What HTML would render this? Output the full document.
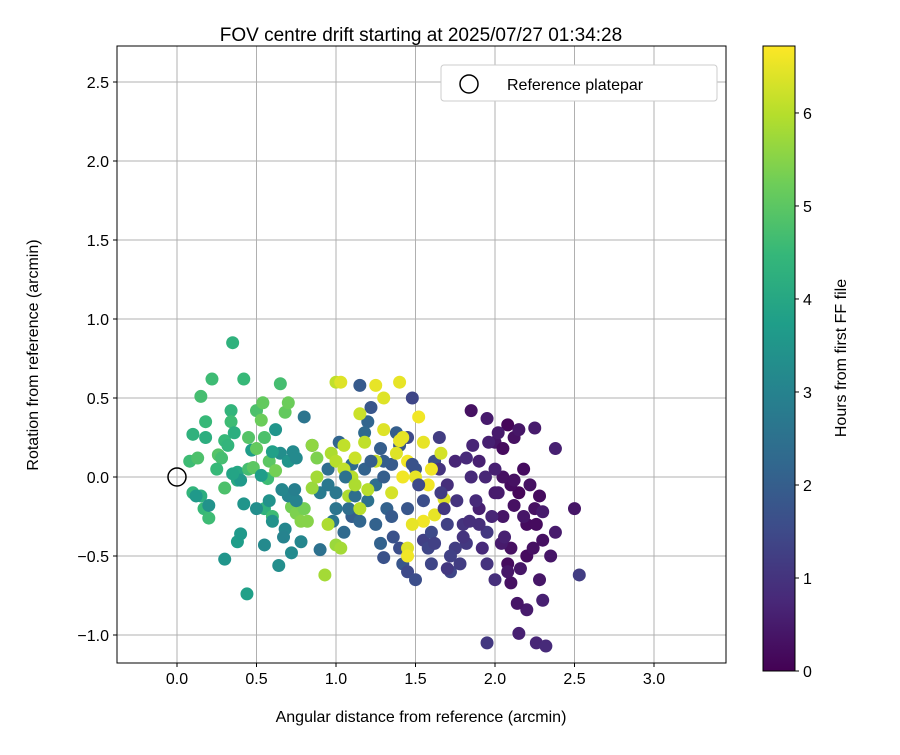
<!DOCTYPE html>
<html><head><meta charset="utf-8"><style>
body{margin:0;background:#fff;font-family:"Liberation Sans",sans-serif}
svg text{font-family:"Liberation Sans",sans-serif;fill:#000}
</style></head><body>
<svg id="c" width="900" height="750" xmlns="http://www.w3.org/2000/svg"></svg>
<script>
const xs=[0.08,0.1,0.13,0.15,0.18,0.18,0.22,0.26,0.28,0.3,0.34,0.35,0.34,0.36,0.38,0.42,0.45,0.48,0.5,0.53,0.54,0.55,0.57,0.58,0.62,0.65,0.68,0.7,0.72,0.75,0.78,0.8,0.82,0.1,0.15,0.17,0.2,0.3,0.38,0.55,0.6,
0.12,0.2,0.3,0.38,0.4,0.44,0.42,0.5,0.55,0.6,0.64,0.68,0.7,0.72,0.75,0.78,0.65,0.7,0.73,0.47,0.4,0.6,0.35,0.53,0.67,
0.8,0.85,0.9,0.95,1.0,1.02,1.05,1.1,1.15,1.18,1.2,1.22,1.25,1.28,1.3,1.32,1.35,1.38,1.4,1.42,1.45,1.48,1.5,1.1,1.2,1.15,1.3,1.4,1.25,1.36,0.98,0.9,1.08,1.45,1.5,1.55,1.6,1.62,1.65,1.7,1.72,
0.93,0.95,1.0,1.03,0.97,1.0,1.05,1.08,1.1,1.12,1.05,1.15,1.2,1.25,1.0,0.85,0.88,0.85,1.15,
1.03,1.25,1.3,1.4,1.52,1.4,1.38,1.45,1.55,1.58,1.55,1.48,1.45,1.45,1.62,1.68,1.5,1.42,1.35,
1.85,1.95,2.0,2.05,2.08,2.12,2.15,2.25,2.38,2.5,2.53,2.38,2.3,2.28,2.3,2.26,2.32,2.15,2.2,2.14,2.1,2.08,2.1,2.0,1.95,1.95,2.2,2.25,2.15,2.1,2.05,2.0,1.9,1.85,1.8,1.75,1.7,1.65,1.9,1.95,2.05,2.12,2.2,2.3,2.35,2.0,1.78,1.82,1.88,2.18,2.22,1.98,2.04,
1.75,1.8,1.72,1.68,1.6,1.58,1.55,1.52,1.48,1.45,1.35,1.3,1.28,1.22,1.18,1.12,1.06,1.0,0.95,1.9,1.92,2.02,2.06,2.16,2.24,2.28,1.86,1.82,1.76,1.66,1.62,1.7,1.84,1.96,2.02,2.12,2.18,2.26,2.08,1.94,
0.25,0.32,0.45,0.5,0.62,0.75,0.88,0.58,0.66,0.74,1.12,1.18,1.3,1.42,1.6,1.66];
const ys=[0.1,0.27,0.12,0.51,0.35,0.25,0.62,0.14,0.12,0.23,0.42,0.85,0.35,0.28,0.03,0.62,0.05,0.06,0.42,0.36,0.47,0.25,-0.01,0.1,0.04,0.59,0.41,0.47,-0.19,-0.23,-0.28,-0.2,-0.28,-0.1,-0.12,-0.2,-0.26,-0.07,-0.02,-0.2,-0.25,
-0.12,-0.18,-0.52,-0.41,-0.36,-0.74,-0.17,-0.2,-0.43,-0.28,-0.56,-0.33,-0.12,-0.48,-0.15,-0.41,0.15,0.1,0.16,0.17,-0.02,0.16,0.02,0.01,-0.38,
0.38,0.2,-0.46,0.05,-0.1,0.22,-0.35,-0.25,0.58,0.05,0.35,0.44,-0.05,0.18,-0.51,-0.2,0.08,0.28,-0.45,-0.55,-0.6,0.5,-0.65,0.08,-0.15,-0.28,0.1,0.2,-0.3,-0.38,-0.28,-0.1,-0.2,0.25,0.05,-0.4,-0.55,0.1,0.25,-0.3,-0.6,
-0.62,-0.3,-0.43,-0.45,0.15,0.1,0.05,-0.12,0.0,0.12,0.2,0.4,-0.08,0.1,0.6,-0.07,0.0,0.2,-0.2,
0.6,0.58,0.5,0.6,0.38,0.23,0.15,0.1,0.22,-0.05,-0.28,-0.3,-0.45,-0.5,-0.24,-0.14,0.0,0.0,-0.1,
0.42,0.37,0.22,0.18,0.33,0.25,0.3,0.31,0.18,-0.2,-0.62,-0.35,-0.4,-0.65,-0.78,-1.05,-1.07,-0.99,-0.84,-0.8,-0.67,-0.55,-0.45,-0.65,-0.55,-1.05,-0.3,-0.2,-0.1,-0.05,0.0,-0.1,-0.2,0.0,-0.3,0.1,-0.05,0.05,0.1,-0.35,-0.25,-0.18,-0.5,-0.22,-0.5,0.05,-0.55,-0.42,-0.15,0.05,-0.05,-0.25,-0.42,
-0.45,-0.38,-0.5,-0.2,-0.35,-0.45,-0.15,-0.05,0.08,-0.2,-0.25,0.0,-0.42,0.1,0.28,-0.12,0.0,-0.2,-0.05,-0.3,-0.45,-0.1,-0.38,-0.58,-0.45,-0.12,0.2,0.12,-0.15,-0.1,-0.42,-0.58,-0.28,0.22,0.28,-0.02,-0.25,-0.3,-0.6,0.0,
0.05,0.2,0.25,0.18,0.3,0.12,0.12,-0.15,-0.08,-0.08,-0.05,0.22,0.3,0.25,0.05,0.15];
const hs=[4.6,4.3,4.8,4.7,4.5,4.2,4.6,4.9,4.7,4.5,4.4,4.3,4.6,4.2,4.0,4.5,4.7,5.0,4.8,5.2,5.1,4.8,4.6,5.0,5.3,4.7,5.1,5.2,5.3,5.4,5.5,5.3,5.5,4.4,4.2,4.5,4.6,4.8,4.1,4.3,4.6,
3.6,3.4,3.5,3.7,3.6,3.8,3.5,3.3,3.2,3.4,3.3,3.1,3.0,3.2,3.0,3.1,3.3,3.5,3.2,3.7,3.6,3.8,3.9,3.7,3.0,
2.6,2.8,2.5,2.4,2.7,2.2,2.3,2.0,1.9,2.1,2.2,1.8,2.4,2.0,1.7,2.1,1.9,2.0,1.6,1.8,1.5,1.4,1.6,2.3,2.5,2.2,2.0,1.8,2.1,1.7,2.6,2.8,2.4,1.5,1.7,1.3,1.4,1.6,1.2,1.3,1.4,
5.8,5.9,5.7,5.8,5.9,6.0,6.1,5.9,6.0,6.2,6.1,6.2,6.0,6.2,6.1,5.7,5.8,5.6,6.0,
6.4,6.5,6.4,6.5,6.6,6.5,6.4,6.6,6.5,6.6,6.6,6.5,6.4,6.6,6.5,6.4,6.5,6.6,6.3,
0.3,0.5,0.4,0.2,0.1,0.3,0.4,0.5,0.6,0.4,1.2,0.5,0.3,0.4,0.6,0.7,0.8,0.6,0.5,0.4,0.3,0.2,0.3,0.9,1.0,1.1,0.2,0.3,0.1,0.2,0.3,0.5,0.6,0.8,1.0,0.7,0.9,1.0,0.6,1.1,0.4,0.3,0.2,0.5,0.4,0.6,1.2,1.1,0.8,0.2,0.3,0.7,0.5,
1.2,1.0,1.3,1.1,1.5,1.4,1.6,1.5,1.7,1.8,1.9,2.0,2.1,2.0,2.3,2.4,2.5,2.6,2.7,0.9,0.8,0.5,0.6,0.4,0.3,0.2,0.7,0.8,1.0,1.2,1.3,1.1,0.9,0.6,0.5,0.3,0.4,0.2,0.4,0.7,
4.5,4.4,4.9,5.1,3.5,3.2,5.4,3.4,3.1,2.9,5.9,6.1,6.4,6.5,6.6,6.3];
const xTicks=[0,0.5,1,1.5,2,2.5,3];
const yTicks=[-1,-0.5,0,0.5,1,1.5,2,2.5];
const cTicks=[0,1,2,3,4,5,6];
const X0=117,X1=726,Y0=46,Y1=663;
const sx=v=>177+v*159, sy=v=>477-v*158;
const cbT=46,cbB=671,cbX=763,cbW=32,hMax=6.72;
const sc=h=>cbB-h*(cbB-cbT)/hMax;
const vir=[[68,1,84],[72,40,120],[62,74,137],[49,104,142],[38,130,142],[31,158,137],[53,183,121],[109,205,89],[180,222,44],[253,231,37]];
function col(t){t=Math.max(0,Math.min(1,t))*9;const i=Math.min(8,Math.floor(t)),f=t-i,a=vir[i],b=vir[i+1];return `rgb(${a.map((v,k)=>Math.round(v+(b[k]-v)*f)).join(',')})`;}
const svg=document.getElementById('c'),NS='http://www.w3.org/2000/svg';
function mk(tag,at,txt){const e=document.createElementNS(NS,tag);for(const k in at)e.setAttribute(k,at[k]);if(txt!==undefined)e.textContent=txt;svg.appendChild(e);return e;}
xTicks.forEach(v=>{const g=mk('line',{x1:sx(v),x2:sx(v),y1:Y0,y2:Y1,stroke:'#b0b0b0','stroke-width':1});


mk('line',{x1:sx(v),x2:sx(v),y1:Y1,y2:Y1+4,stroke:'#000'});
const t=mk('text',{x:sx(v),y:Y1+21,'text-anchor':'middle','font-size':16},v.toFixed(1));

});
yTicks.forEach(v=>{const g=mk('line',{x1:X0,x2:X1,y1:sy(v),y2:sy(v),stroke:'#b0b0b0','stroke-width':1});


mk('line',{x1:X0-4,x2:X0,y1:sy(v),y2:sy(v),stroke:'#000'});
const t=mk('text',{x:X0-8,y:sy(v)+6,'text-anchor':'end','font-size':16},v.toFixed(1).replace('-','\u2212'));

});
for(let i=0;i<xs.length;i++){const c=mk('circle',{cx:sx(xs[i]),cy:sy(ys[i]),r:6.5,fill:col(hs[i]/hMax)});

}
const ref=mk('circle',{cx:sx(0),cy:sy(0),r:9,fill:'none',stroke:'#000','stroke-width':1.5});


const fr=mk('rect',{x:X0,y:Y0,width:X1-X0,height:Y1-Y0,fill:'none',stroke:'#000','stroke-width':1});


const lg=mk('rect',{x:441,y:65,width:276,height:36,rx:3,fill:'#fff',stroke:'#ccc'});


mk('circle',{cx:469,cy:84,r:9,fill:'none',stroke:'#000','stroke-width':1.5});
const lt=mk('text',{x:507,y:90,'font-size':16},'Reference platepar');


let t=mk('text',{x:421,y:41,'text-anchor':'middle','font-size':19},'FOV centre drift starting at 2025/07/27 01:34:28');


t=mk('text',{x:421,y:722,'text-anchor':'middle','font-size':16},'Angular distance from reference (arcmin)');


t=mk('text',{x:38,y:355,'text-anchor':'middle','font-size':16,transform:'rotate(-90 38 355)'},'Rotation from reference (arcmin)');


const defs=mk('defs',{});const gr=document.createElementNS(NS,'linearGradient');gr.setAttribute('id','vg');gr.setAttribute('x1',0);gr.setAttribute('y1',1);gr.setAttribute('x2',0);gr.setAttribute('y2',0);defs.appendChild(gr);
vir.forEach((c,i)=>{const s=document.createElementNS(NS,'stop');s.setAttribute('offset',i/9);s.setAttribute('stop-color',`rgb(${c})`);gr.appendChild(s);});
const cb=mk('rect',{x:cbX,y:cbT,width:cbW,height:cbB-cbT,fill:'url(#vg)',stroke:'#000','stroke-width':1});


cTicks.forEach(v=>{mk('line',{x1:cbX+cbW,x2:cbX+cbW+4,y1:sc(v),y2:sc(v),stroke:'#000'});
const tt=mk('text',{x:cbX+cbW+8,y:sc(v)+6,'font-size':16},String(v));

});
t=mk('text',{x:846,y:358,'text-anchor':'middle','font-size':16,transform:'rotate(-90 846 358)'},'Hours from first FF file');


</script>
</body></html>
